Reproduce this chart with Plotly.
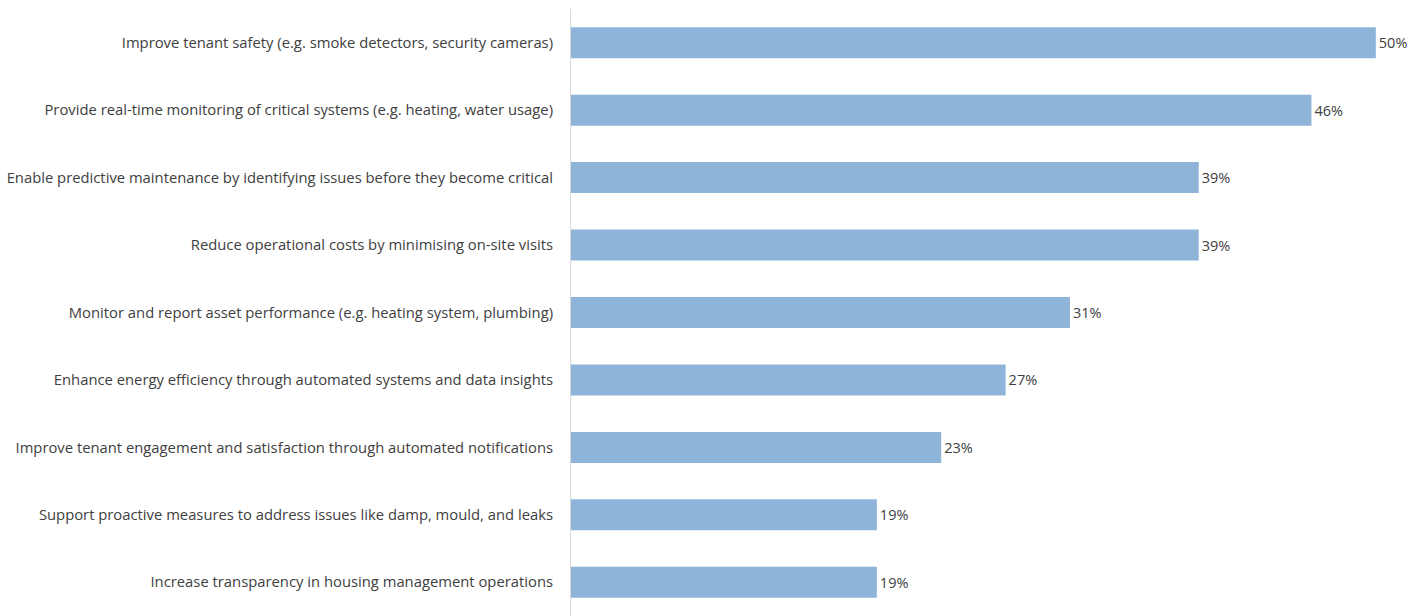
import plotly.graph_objects as go

categories = [
    "Improve tenant safety (e.g. smoke detectors, security cameras)",
    "Provide real-time monitoring of critical systems (e.g. heating, water usage)",
    "Enable predictive maintenance by identifying issues before they become critical",
    "Reduce operational costs by minimising on-site visits",
    "Monitor and report asset performance (e.g. heating system, plumbing)",
    "Enhance energy efficiency through automated systems and data insights",
    "Improve tenant engagement and satisfaction through automated notifications",
    "Support proactive measures to address issues like damp, mould, and leaks",
    "Increase transparency in housing management operations",
]
values = [50, 46, 39, 39, 31, 27, 23, 19, 19]
labels = [f"{v}%" for v in values]

fig = go.Figure(go.Bar(
    x=values, y=categories, orientation="h",
    marker=dict(color="#8fb4da", line=dict(width=0)),
    text=labels, textposition="outside", cliponaxis=True,
    textfont=dict(family="Open Sans", size=14.5, color="#404040"),
))
fig.update_layout(
    width=1425, height=616,
    margin=dict(l=571, r=17, t=9, b=0),
    paper_bgcolor="white", plot_bgcolor="white",
    bargap=0.54, showlegend=False,
    font=dict(family="Open Sans", size=14.8, color="#404040"),
)
fig.update_xaxes(range=[0, 52], visible=False, showgrid=False, zeroline=False)
fig.update_yaxes(autorange="reversed", showgrid=False, zeroline=False,
                 showline=True, linecolor="#d9d9d9", linewidth=1,
                 ticks="", ticklabelstandoff=14,
                 tickfont=dict(family="Open Sans", size=14.8, color="#404040"))
fig.write_html("out.html")
